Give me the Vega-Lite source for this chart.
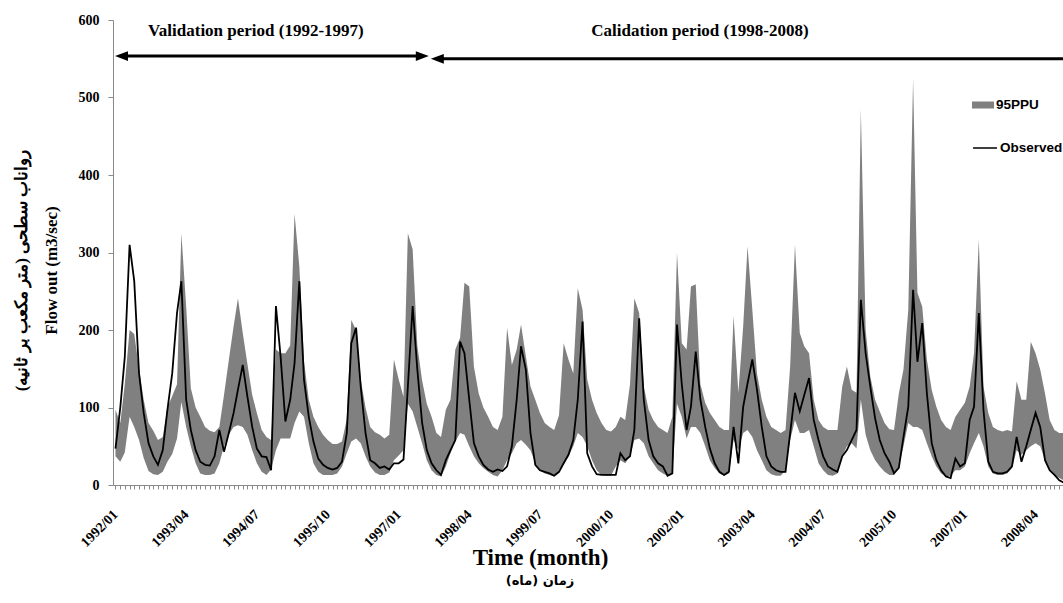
{
  "$schema": "https://vega.github.io/schema/vega-lite/v6.json",
  "width": 950,
  "height": 465,
  "autosize": "none",
  "padding": {"left": 113, "top": 20, "right": 0, "bottom": 118},
  "background": "white",
  "config": {"view": {"stroke": null}, "axis": {"grid": false}},
  "datasets": {
    "flow": [
      {"d":"1992-01-01","u":97,"l":37,"o":47},{"d":"1992-02-01","u":80,"l":30,"o":100},{"d":"1992-03-01","u":130,"l":42,"o":165},{"d":"1992-04-01","u":200,"l":88,"o":310},{"d":"1992-05-01","u":195,"l":75,"o":263},{"d":"1992-06-01","u":150,"l":58,"o":144},{"d":"1992-07-01","u":110,"l":35,"o":93},{"d":"1992-08-01","u":80,"l":18,"o":54},{"d":"1992-09-01","u":70,"l":14,"o":37},{"d":"1992-10-01","u":58,"l":13,"o":26},{"d":"1992-11-01","u":62,"l":17,"o":45},{"d":"1992-12-01","u":100,"l":30,"o":97},
      {"d":"1993-01-01","u":115,"l":40,"o":144},{"d":"1993-02-01","u":130,"l":60,"o":222},{"d":"1993-03-01","u":325,"l":107,"o":263},{"d":"1993-04-01","u":230,"l":75,"o":110},{"d":"1993-05-01","u":125,"l":50,"o":71},{"d":"1993-06-01","u":100,"l":28,"o":45},{"d":"1993-07-01","u":88,"l":15,"o":30},{"d":"1993-08-01","u":75,"l":13,"o":26},{"d":"1993-09-01","u":70,"l":13,"o":25},{"d":"1993-10-01","u":68,"l":15,"o":37},{"d":"1993-11-01","u":75,"l":28,"o":71},{"d":"1993-12-01","u":116,"l":50,"o":43},
      {"d":"1994-01-01","u":161,"l":65,"o":67},{"d":"1994-02-01","u":205,"l":75,"o":93},{"d":"1994-03-01","u":241,"l":77,"o":123},{"d":"1994-04-01","u":196,"l":75,"o":155},{"d":"1994-05-01","u":156,"l":65,"o":114},{"d":"1994-06-01","u":116,"l":45,"o":75},{"d":"1994-07-01","u":93,"l":28,"o":47},{"d":"1994-08-01","u":71,"l":17,"o":37},{"d":"1994-09-01","u":62,"l":13,"o":36},{"d":"1994-10-01","u":58,"l":20,"o":19},{"d":"1994-11-01","u":175,"l":45,"o":231},{"d":"1994-12-01","u":170,"l":60,"o":166},
      {"d":"1995-01-01","u":170,"l":60,"o":82},{"d":"1995-02-01","u":180,"l":60,"o":110},{"d":"1995-03-01","u":350,"l":80,"o":157},{"d":"1995-04-01","u":282,"l":95,"o":263},{"d":"1995-05-01","u":160,"l":88,"o":136},{"d":"1995-06-01","u":110,"l":54,"o":88},{"d":"1995-07-01","u":88,"l":28,"o":56},{"d":"1995-08-01","u":75,"l":17,"o":34},{"d":"1995-09-01","u":65,"l":13,"o":26},{"d":"1995-10-01","u":58,"l":13,"o":22},{"d":"1995-11-01","u":53,"l":13,"o":20},{"d":"1995-12-01","u":53,"l":15,"o":22},
      {"d":"1996-01-01","u":56,"l":24,"o":30},{"d":"1996-02-01","u":85,"l":41,"o":67},{"d":"1996-03-01","u":213,"l":56,"o":183},{"d":"1996-04-01","u":200,"l":60,"o":203},{"d":"1996-05-01","u":136,"l":54,"o":127},{"d":"1996-06-01","u":100,"l":37,"o":67},{"d":"1996-07-01","u":75,"l":24,"o":32},{"d":"1996-08-01","u":68,"l":16,"o":28},{"d":"1996-09-01","u":65,"l":13,"o":22},{"d":"1996-10-01","u":60,"l":13,"o":24},{"d":"1996-11-01","u":65,"l":16,"o":20},{"d":"1996-12-01","u":162,"l":32,"o":28},
      {"d":"1997-01-01","u":136,"l":38,"o":28},{"d":"1997-02-01","u":114,"l":45,"o":33},{"d":"1997-03-01","u":325,"l":105,"o":127},{"d":"1997-04-01","u":304,"l":95,"o":231},{"d":"1997-05-01","u":180,"l":75,"o":149},{"d":"1997-06-01","u":135,"l":54,"o":80},{"d":"1997-07-01","u":105,"l":32,"o":45},{"d":"1997-08-01","u":88,"l":19,"o":28},{"d":"1997-09-01","u":67,"l":13,"o":19},{"d":"1997-10-01","u":62,"l":11,"o":13},{"d":"1997-11-01","u":97,"l":24,"o":32},{"d":"1997-12-01","u":110,"l":41,"o":45},
      {"d":"1998-01-01","u":175,"l":56,"o":58},{"d":"1998-02-01","u":190,"l":67,"o":185},{"d":"1998-03-01","u":261,"l":65,"o":170},{"d":"1998-04-01","u":256,"l":50,"o":110},{"d":"1998-05-01","u":153,"l":37,"o":54},{"d":"1998-06-01","u":118,"l":28,"o":37},{"d":"1998-07-01","u":100,"l":22,"o":26},{"d":"1998-08-01","u":88,"l":17,"o":20},{"d":"1998-09-01","u":75,"l":13,"o":17},{"d":"1998-10-01","u":71,"l":11,"o":20},{"d":"1998-11-01","u":88,"l":19,"o":18},{"d":"1998-12-01","u":203,"l":32,"o":24},
      {"d":"1999-01-01","u":155,"l":41,"o":50},{"d":"1999-02-01","u":175,"l":54,"o":110},{"d":"1999-03-01","u":207,"l":58,"o":179},{"d":"1999-04-01","u":166,"l":52,"o":149},{"d":"1999-05-01","u":127,"l":45,"o":67},{"d":"1999-06-01","u":110,"l":28,"o":26},{"d":"1999-07-01","u":93,"l":19,"o":19},{"d":"1999-08-01","u":80,"l":15,"o":17},{"d":"1999-09-01","u":75,"l":13,"o":15},{"d":"1999-10-01","u":71,"l":11,"o":12},{"d":"1999-11-01","u":90,"l":19,"o":17},{"d":"1999-12-01","u":183,"l":28,"o":28},
      {"d":"2000-01-01","u":162,"l":37,"o":39},{"d":"2000-02-01","u":144,"l":50,"o":58},{"d":"2000-03-01","u":254,"l":67,"o":110},{"d":"2000-04-01","u":226,"l":62,"o":211},{"d":"2000-05-01","u":136,"l":50,"o":41},{"d":"2000-06-01","u":110,"l":32,"o":24},{"d":"2000-07-01","u":93,"l":19,"o":14},{"d":"2000-08-01","u":80,"l":13,"o":13},{"d":"2000-09-01","u":71,"l":12,"o":13},{"d":"2000-10-01","u":69,"l":12,"o":13},{"d":"2000-11-01","u":75,"l":24,"o":13},{"d":"2000-12-01","u":88,"l":32,"o":41},
      {"d":"2001-01-01","u":84,"l":28,"o":32},{"d":"2001-02-01","u":130,"l":37,"o":37},{"d":"2001-03-01","u":241,"l":58,"o":71},{"d":"2001-04-01","u":222,"l":60,"o":215},{"d":"2001-05-01","u":127,"l":54,"o":110},{"d":"2001-06-01","u":97,"l":37,"o":58},{"d":"2001-07-01","u":84,"l":28,"o":37},{"d":"2001-08-01","u":75,"l":19,"o":28},{"d":"2001-09-01","u":71,"l":15,"o":24},{"d":"2001-10-01","u":67,"l":12,"o":12},{"d":"2001-11-01","u":88,"l":15,"o":15},{"d":"2001-12-01","u":300,"l":105,"o":207},
      {"d":"2002-01-01","u":183,"l":88,"o":130},{"d":"2002-02-01","u":175,"l":60,"o":71},{"d":"2002-03-01","u":256,"l":75,"o":101},{"d":"2002-04-01","u":259,"l":75,"o":172},{"d":"2002-05-01","u":130,"l":67,"o":110},{"d":"2002-06-01","u":106,"l":50,"o":75},{"d":"2002-07-01","u":93,"l":32,"o":47},{"d":"2002-08-01","u":84,"l":22,"o":28},{"d":"2002-09-01","u":75,"l":15,"o":17},{"d":"2002-10-01","u":71,"l":12,"o":13},{"d":"2002-11-01","u":71,"l":15,"o":17},{"d":"2002-12-01","u":218,"l":58,"o":75},
      {"d":"2003-01-01","u":119,"l":45,"o":28},{"d":"2003-02-01","u":205,"l":67,"o":101},{"d":"2003-03-01","u":308,"l":71,"o":131},{"d":"2003-04-01","u":226,"l":62,"o":162},{"d":"2003-05-01","u":144,"l":45,"o":123},{"d":"2003-06-01","u":110,"l":32,"o":75},{"d":"2003-07-01","u":88,"l":19,"o":37},{"d":"2003-08-01","u":75,"l":14,"o":24},{"d":"2003-09-01","u":71,"l":12,"o":19},{"d":"2003-10-01","u":67,"l":12,"o":17},{"d":"2003-11-01","u":71,"l":19,"o":17},{"d":"2003-12-01","u":153,"l":58,"o":67},
      {"d":"2004-01-01","u":310,"l":84,"o":119},{"d":"2004-02-01","u":196,"l":67,"o":95},{"d":"2004-03-01","u":179,"l":67,"o":116},{"d":"2004-04-01","u":170,"l":71,"o":138},{"d":"2004-05-01","u":110,"l":50,"o":84},{"d":"2004-06-01","u":84,"l":28,"o":58},{"d":"2004-07-01","u":75,"l":19,"o":37},{"d":"2004-08-01","u":71,"l":13,"o":24},{"d":"2004-09-01","u":71,"l":12,"o":20},{"d":"2004-10-01","u":71,"l":15,"o":17},{"d":"2004-11-01","u":127,"l":37,"o":37},{"d":"2004-12-01","u":153,"l":50,"o":45},
      {"d":"2005-01-01","u":123,"l":54,"o":58},{"d":"2005-02-01","u":119,"l":47,"o":71},{"d":"2005-03-01","u":485,"l":110,"o":239},{"d":"2005-04-01","u":200,"l":65,"o":170},{"d":"2005-05-01","u":140,"l":45,"o":127},{"d":"2005-06-01","u":110,"l":32,"o":86},{"d":"2005-07-01","u":95,"l":24,"o":58},{"d":"2005-08-01","u":80,"l":17,"o":41},{"d":"2005-09-01","u":72,"l":13,"o":30},{"d":"2005-10-01","u":71,"l":13,"o":15},{"d":"2005-11-01","u":118,"l":24,"o":22},{"d":"2005-12-01","u":149,"l":50,"o":62},
      {"d":"2006-01-01","u":226,"l":80,"o":101},{"d":"2006-02-01","u":524,"l":75,"o":252},{"d":"2006-03-01","u":248,"l":75,"o":159},{"d":"2006-04-01","u":230,"l":71,"o":209},{"d":"2006-05-01","u":162,"l":54,"o":118},{"d":"2006-06-01","u":123,"l":37,"o":54},{"d":"2006-07-01","u":101,"l":24,"o":32},{"d":"2006-08-01","u":84,"l":15,"o":19},{"d":"2006-09-01","u":75,"l":11,"o":11},{"d":"2006-10-01","u":71,"l":12,"o":9},{"d":"2006-11-01","u":88,"l":19,"o":34},{"d":"2006-12-01","u":97,"l":19,"o":24},
      {"d":"2007-01-01","u":106,"l":24,"o":28},{"d":"2007-02-01","u":127,"l":41,"o":84},{"d":"2007-03-01","u":170,"l":54,"o":101},{"d":"2007-04-01","u":317,"l":67,"o":222},{"d":"2007-05-01","u":127,"l":50,"o":97},{"d":"2007-06-01","u":93,"l":24,"o":30},{"d":"2007-07-01","u":75,"l":15,"o":17},{"d":"2007-08-01","u":71,"l":13,"o":15},{"d":"2007-09-01","u":69,"l":13,"o":15},{"d":"2007-10-01","u":71,"l":15,"o":17},{"d":"2007-11-01","u":69,"l":22,"o":24},{"d":"2007-12-01","u":134,"l":45,"o":62},
      {"d":"2008-01-01","u":110,"l":39,"o":30},{"d":"2008-02-01","u":110,"l":45,"o":50},{"d":"2008-03-01","u":185,"l":50,"o":71},{"d":"2008-04-01","u":170,"l":54,"o":93},{"d":"2008-05-01","u":149,"l":50,"o":75},{"d":"2008-06-01","u":118,"l":32,"o":32},{"d":"2008-07-01","u":84,"l":19,"o":19},{"d":"2008-08-01","u":71,"l":13,"o":13},{"d":"2008-09-01","u":67,"l":9,"o":6},{"d":"2008-10-01","u":67,"l":6,"o":3}
    ]
  },
  "title": {
    "text": "\u202bزمان (ماه)\u202c",
    "orient": "bottom",
    "anchor": "middle",
    "font": "DejaVu Sans",
    "fontSize": 13,
    "fontWeight": "bold",
    "color": "black",
    "dx": -48,
    "offset": 6
  },
  "layer": [
    {
      "data": {"name": "flow"},
      "mark": {"type": "area", "clip": true, "opacity": 1, "interpolate": "linear"},
      "encoding": {
        "x": {
          "field": "d", "type": "temporal", "title": "Time (month)",
          "scale": {"type": "utc", "domain": [{"year": 1991, "month": 12, "date": 16, "utc": true}, {"year": 2008, "month": 9, "date": 25, "utc": true}]},
          "axis": {
            "tickCount": {"interval": "month", "step": 1},
            "labelExpr": "(utcyear(datum.value)*12 + utcmonth(datum.value) - 23904) % 15 === 0 ? utcFormat(datum.value, '%Y/%m') : ''",
            "labelAngle": -45,
            "labelFont": "Liberation Serif",
            "labelFontWeight": "bold",
            "labelFontSize": 14,
            "labelColor": "black",
            "labelOverlap": false,
            "labelFlush": false,
            "labelPadding": 18,
            "labelOffset": -5,
            "tickSize": 4,
            "tickColor": "#8a8a8a",
            "domainColor": "#8a8a8a",
            "titleFont": "Liberation Serif",
            "titleFontSize": 23,
            "titleFontWeight": "bold",
            "titleColor": "black",
            "titleX": 427,
            "titleY": 79,
            "titleBaseline": "alphabetic",
            "titleAlign": "center"
          }
        },
        "y": {
          "field": "u", "type": "quantitative",
          "title": ["\u202bرواناب سطحی (متر مکعب بر ثانیه)\u202c", "Flow out (m3/sec)"],
          "scale": {"domain": [0, 600], "nice": false},
          "axis": {
            "values": [0, 100, 200, 300, 400, 500, 600],
            "labelFont": "Liberation Serif",
            "labelFontWeight": "bold",
            "labelFontSize": 14,
            "labelColor": "black",
            "labelPadding": 9,
            "tickSize": 5,
            "tickColor": "#8a8a8a",
            "domainColor": "#8a8a8a",
            "titleFont": "Liberation Serif",
            "titleFontSize": 17,
            "titleFontWeight": "bold",
            "titleColor": "black",
            "titleLineHeight": 30,
            "titleX": -83,
            "titleY": 250,
            "titleBaseline": "bottom"
          }
        },
        "y2": {"field": "l"},
        "fill": {
          "datum": "95PPU", "type": "nominal",
          "scale": {"range": ["#808080"]},
          "legend": {
            "orient": "none", "legendX": 859, "legendY": 74, "title": null, "padding": 0,
            "symbolType": "M-1,-0.32L1,-0.32L1,0.32L-1,0.32Z", "symbolSize": 484, "symbolStrokeWidth": 0,
            "labelFont": "Liberation Sans", "labelFontWeight": "bold", "labelFontSize": 13.5, "labelColor": "black", "labelOffset": 2
          }
        }
      }
    },
    {
      "data": {"name": "flow"},
      "mark": {"type": "line", "clip": true, "strokeWidth": 1.8, "interpolate": "linear"},
      "encoding": {
        "x": {"field": "d", "type": "temporal", "title": "Time (month)"},
        "y": {"field": "o", "type": "quantitative", "title": ["\u202bرواناب سطحی (متر مکعب بر ثانیه)\u202c", "Flow out (m3/sec)"]},
        "stroke": {
          "datum": "Observed", "type": "nominal",
          "scale": {"range": ["#000000"]},
          "legend": {
            "orient": "none", "legendX": 859, "legendY": 115, "title": null, "padding": 0,
            "symbolType": "stroke", "symbolSize": 576, "symbolStrokeWidth": 1.5,
            "labelFont": "Liberation Sans", "labelFontWeight": "bold", "labelFontSize": 13.5, "labelColor": "black", "labelOffset": 2
          }
        }
      }
    },
    {
      "data": {"values": [
        {"d": "1992-02-05", "e": "1997-06-05", "v": 553.5},
        {"d": "1997-09-04", "e": "2008-09-25", "v": 550}
      ]},
      "mark": {"type": "rule", "strokeWidth": 3, "color": "black", "clip": false},
      "encoding": {
        "x": {"field": "d", "type": "temporal", "title": "Time (month)"},
        "x2": {"field": "e"},
        "y": {"field": "v", "type": "quantitative", "title": ["\u202bرواناب سطحی (متر مکعب بر ثانیه)\u202c", "Flow out (m3/sec)"]}
      }
    },
    {
      "data": {"values": [
        {"d": "1997-07-14", "v": 553.5}
      ]},
      "mark": {"type": "point", "shape": "M0,0L-2,-0.75L-2,0.75Z", "size": 169, "filled": true, "color": "black", "opacity": 1, "strokeWidth": 0},
      "encoding": {
        "x": {"field": "d", "type": "temporal", "title": "Time (month)"},
        "y": {"field": "v", "type": "quantitative", "title": ["\u202bرواناب سطحی (متر مکعب بر ثانیه)\u202c", "Flow out (m3/sec)"]}
      }
    },
    {
      "data": {"values": [
        {"d": "1991-12-29", "v": 553.5},
        {"d": "1997-07-27", "v": 550}
      ]},
      "mark": {"type": "point", "shape": "M0,0L2,-0.75L2,0.75Z", "size": 169, "filled": true, "color": "black", "opacity": 1, "strokeWidth": 0},
      "encoding": {
        "x": {"field": "d", "type": "temporal", "title": "Time (month)"},
        "y": {"field": "v", "type": "quantitative", "title": ["\u202bرواناب سطحی (متر مکعب بر ثانیه)\u202c", "Flow out (m3/sec)"]}
      }
    },
    {
      "data": {"values": [
        {"d": "1994-06-25", "v": 579, "t": "Validation period (1992-1997)"},
        {"d": "2002-04-28", "v": 579, "t": "Calidation period (1998-2008)"}
      ]},
      "mark": {"type": "text", "font": "Liberation Serif", "fontSize": 17, "fontWeight": "bold", "color": "black", "align": "center", "baseline": "alphabetic"},
      "encoding": {
        "x": {"field": "d", "type": "temporal", "title": "Time (month)"},
        "y": {"field": "v", "type": "quantitative", "title": ["\u202bرواناب سطحی (متر مکعب بر ثانیه)\u202c", "Flow out (m3/sec)"]},
        "text": {"field": "t"}
      }
    }
  ]
}
